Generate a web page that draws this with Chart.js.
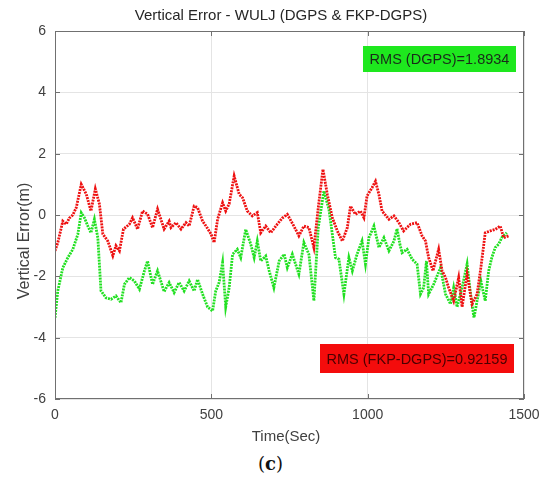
<!DOCTYPE html>
<html>
<head>
<meta charset="utf-8">
<script src="https://cdn.jsdelivr.net/npm/chart.js@4.4.1/dist/chart.umd.min.js"></script>
<style>
  body { margin: 0; background: #fff; }
  #wrap { position: relative; width: 541px; height: 484px; }
  #chart { position: absolute; left: 0; top: 0; }
  #caption {
    position: absolute; left: 0; top: 453px; width: 541px;
    text-align: center; font-family: "DejaVu Serif", serif; font-size: 18px; color: #111;
  }
</style>
</head>
<body>
<div id="wrap">
  <canvas id="chart" width="541" height="450"></canvas>
  <div id="caption">(<b>c</b>)</div>
</div>
<script>
// FKP-DGPS vertical error (m) against time (s)
const fkpTime = [0, 9, 25, 36, 46, 57, 68, 84, 100, 115, 129, 142, 153, 169, 185, 195, 206, 219, 238, 248,
  264, 280, 296, 312, 328, 349, 365, 371, 387, 403, 419, 429, 445, 456, 472, 483, 499, 509, 520, 536,
  546, 557, 573, 589, 600, 615, 631, 647, 658, 674, 690, 711, 727, 743, 764, 780, 796, 812, 828, 842,
  857, 871, 887, 903, 919, 935, 945, 961, 977, 988, 998, 1014, 1025, 1036, 1046, 1068, 1084, 1100, 1115, 1137,
  1158, 1174, 1185, 1195, 1209, 1227, 1238, 1249, 1259, 1275, 1291, 1302, 1318, 1334, 1350, 1362, 1376, 1392, 1408, 1424,
  1435, 1451];
const fkpErr = [-1.17, -0.9, -0.2, -0.3, -0.1, 0, 0.24, 1.0, 0.68, 0.13, 0.85, 0.36, -0.62, -0.85, -1.33, -1.0, -1.17, -0.46, -0.3, -0.09,
  -0.46, 0.13, 0.03, -0.41, 0.19, -0.46, -0.2, -0.41, -0.25, -0.46, -0.25, -0.36, 0.29, 0.24, -0.2, -0.36, -0.62, -0.9, -0.14, 0.4,
  0.13, 0.36, 1.27, 0.68, 0.56, 0.13, -0.03, 0.08, -0.58, -0.36, -0.58, -0.3, -0.1, 0.02, -0.36, -0.68, -0.36, -0.41, -1.06, 0.24,
  1.49, 0.67, -0.09, -0.52, -0.85, -0.41, 0.29, 0.02, 0.13, -0.09, 0.62, 0.89, 1.1, 0.67, 0.13, -0.14, -0.03, -0.25, -0.52, -0.3,
  -0.25, -0.68, -0.85, -1.39, -1.82, -1.12, -1.82, -2.04, -2.37, -2.8, -2.04, -3.0, -1.93, -2.9, -2.58, -1.72, -0.58, -0.52, -0.47, -0.36,
  -0.74, -0.68];

// DGPS vertical error (m) against time (s)
const dgpsTime = [0, 9, 25, 41, 57, 73, 84, 94, 105, 115, 126, 137, 142, 147, 163, 179, 195, 211, 222, 238,
  254, 270, 286, 296, 312, 328, 349, 365, 381, 397, 413, 429, 445, 456, 472, 488, 504, 514, 525, 536,
  546, 557, 568, 583, 594, 610, 626, 637, 647, 658, 674, 685, 700, 717, 733, 743, 759, 780, 796, 812,
  828, 842, 860, 876, 887, 897, 908, 924, 940, 951, 966, 982, 993, 1004, 1020, 1036, 1052, 1068, 1084, 1094,
  1103, 1110, 1126, 1142, 1158, 1169, 1179, 1188, 1195, 1211, 1233, 1249, 1265, 1275, 1286, 1302, 1318, 1329, 1340, 1350,
  1362, 1376, 1387, 1397, 1408, 1419, 1429, 1445];
const dgpsErr = [-3.35, -2.47, -1.72, -1.39, -1.12, -0.63, 0.07, -0.09, -0.36, -0.58, -0.14, -0.74, -1.6, -2.47, -2.7, -2.75, -2.64, -2.86, -2.26, -2.04,
  -2.15, -2.42, -1.82, -1.5, -2.26, -1.82, -2.5, -2.2, -2.53, -2.2, -2.48, -2.15, -2.48, -2.1, -2.58, -3.0, -3.13, -2.48, -2.2, -1.55,
  -3.0, -2.37, -1.28, -1.12, -1.39, -0.47, -0.95, -1.39, -0.85, -1.5, -1.34, -1.82, -2.37, -1.5, -1.28, -1.72, -1.28, -1.93, -0.9, -1.28,
  -2.8, -0.41, 0.78, 0.19, -0.63, -1.39, -1.44, -2.58, -1.39, -1.82, -1.28, -0.85, -1.6, -0.74, -0.36, -1.06, -0.74, -1.17, -0.85, -0.45,
  -0.95, -1.23, -1.12, -1.44, -1.6, -2.58, -2.37, -1.5, -2.58, -2.26, -1.72, -2.58, -2.9, -2.37, -3.0, -2.37, -1.6, -2.58, -3.35, -2.8,
  -2.15, -2.8, -1.82, -1.39, -1.06, -0.95, -0.74, -0.58];

const xTicks = [0, 500, 1000, 1500];
const yTicks = [-6, -4, -2, 0, 2, 4, 6];

const rmsDgps = '1.8934';
const rmsFkp = '0.92159';

const FONT = 'Liberation Sans, Arial, sans-serif';

function toPoints(xs, ys) {
  return xs.map((x, i) => ({ x: x, y: ys[i] }));
}

// box, inward ticks, titles and RMS labels
const decorations = {
  id: 'decorations',
  afterDatasetsDraw(chart) {
    const ctx = chart.ctx;
    const a = chart.chartArea;
    const xs = chart.scales.x;
    const ys = chart.scales.y;

    ctx.save();
    ctx.strokeStyle = '#707070';
    ctx.lineWidth = 1;
    ctx.strokeRect(a.left + 0.5, a.top + 0.5, a.right - a.left - 1, a.bottom - a.top - 1);
    ctx.beginPath();
    xTicks.forEach(v => {
      const px = Math.round(xs.getPixelForValue(v)) + 0.5;
      ctx.moveTo(px, a.bottom); ctx.lineTo(px, a.bottom - 5);
      ctx.moveTo(px, a.top); ctx.lineTo(px, a.top + 5);
    });
    yTicks.forEach(v => {
      const py = Math.round(ys.getPixelForValue(v)) + 0.5;
      ctx.moveTo(a.left, py); ctx.lineTo(a.left + 5, py);
      ctx.moveTo(a.right, py); ctx.lineTo(a.right - 5, py);
    });
    ctx.stroke();

    // RMS labels
    ctx.font = '14.5px ' + FONT;
    ctx.textAlign = 'center';
    ctx.textBaseline = 'middle';

    let r = { x: a.right - 161, y: a.top + 15, w: 153, h: 26 };
    ctx.fillStyle = '#1ee81e';
    ctx.fillRect(r.x, r.y, r.w, r.h);
    ctx.fillStyle = '#1a2a1a';
    ctx.fillText('RMS (DGPS)=' + rmsDgps, r.x + r.w / 2, r.y + r.h / 2 + 1);

    r = { x: a.right - 204, y: a.bottom - 55, w: 194, h: 29 };
    ctx.fillStyle = '#f40c0c';
    ctx.fillRect(r.x, r.y, r.w, r.h);
    ctx.fillStyle = '#4a0000';
    ctx.fillText('RMS (FKP-DGPS)=' + rmsFkp, r.x + r.w / 2, r.y + r.h / 2 + 1);

    // titles
    ctx.fillStyle = '#262626';
    ctx.font = '15px ' + FONT;
    ctx.fillText('Vertical Error - WULJ (DGPS & FKP-DGPS)', 281, 16);
    ctx.fillStyle = '#404040';
    ctx.fillText('Time(Sec)', 286, 437);
    ctx.font = '16px ' + FONT;
    ctx.translate(25, 241);
    ctx.rotate(-Math.PI / 2);
    ctx.fillText('Vertical Error(m)', 0, 0);
    ctx.restore();
  }
};

const ctx = document.getElementById('chart').getContext('2d');
new Chart(ctx, {
  type: 'scatter',
  data: {
    datasets: [
      {
        label: 'FKP-DGPS',
        data: toPoints(fkpTime, fkpErr),
        showLine: true,
        borderColor: '#ee1111',
        borderWidth: 2.8,
        borderDash: [2, 1],
        pointRadius: 0,
        order: 1
      },
      {
        label: 'DGPS',
        data: toPoints(dgpsTime, dgpsErr),
        showLine: true,
        borderColor: '#22e022',
        borderWidth: 2.8,
        borderDash: [2, 1],
        pointRadius: 0,
        order: 2
      }
    ]
  },
  options: {
    responsive: false,
    animation: false,
    devicePixelRatio: 1,
    layout: { padding: { top: 31, right: 17, left: 0, bottom: 0 } },
    plugins: {
      legend: { display: false },
      tooltip: { enabled: false }
    },
    scales: {
      x: {
        type: 'linear',
        min: 0,
        max: 1500,
        afterBuildTicks: s => { s.ticks = xTicks.map(v => ({ value: v })); },
        afterFit: s => { s.height = 51; s.paddingLeft = 0; s.paddingRight = 0; },
        grid: { color: '#e4e4e4', drawTicks: false },
        border: { display: false },
        ticks: { padding: 8, color: '#404040', maxRotation: 0, font: { family: FONT, size: 14 }, callback: v => String(v) }
      },
      y: {
        type: 'linear',
        min: -6,
        max: 6,
        afterBuildTicks: s => { s.ticks = yTicks.map(v => ({ value: v })); },
        afterFit: s => { s.width = 55; s.paddingTop = 0; s.paddingBottom = 0; },
        grid: { color: '#e4e4e4', drawTicks: false },
        border: { display: false },
        ticks: { padding: 9, color: '#404040', font: { family: FONT, size: 14 }, callback: v => String(v) }
      }
    }
  },
  plugins: [decorations]
});
</script>
</body>
</html>
